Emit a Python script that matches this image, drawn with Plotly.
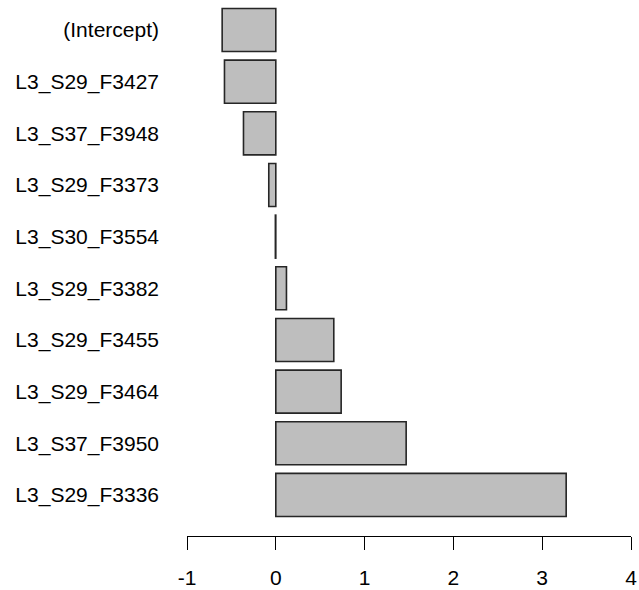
import plotly.graph_objects as go

labels = ["(Intercept)", "L3_S29_F3427", "L3_S37_F3948", "L3_S29_F3373", "L3_S30_F3554",
          "L3_S29_F3382", "L3_S29_F3455", "L3_S29_F3464", "L3_S37_F3950", "L3_S29_F3336"]
values = [-0.604, -0.578, -0.364, -0.079, -0.005, 0.12, 0.653, 0.736, 1.468, 3.27]
x_ticks = [-1, 0, 1, 2, 3, 4]

positions = list(range(len(labels)))

fig = go.Figure(go.Bar(
    x=values, y=positions, orientation="h", width=0.833,
    marker=dict(color="#BEBEBE", line=dict(color="#262626", width=1.6)),
    hoverinfo="skip",
))

font = dict(family="Liberation Sans, Arial, sans-serif", size=21, color="#000000")

fig.update_layout(
    width=639, height=590,
    margin=dict(l=186.7, r=8.3, t=0, b=54.3, autoexpand=False),
    paper_bgcolor="white", plot_bgcolor="white",
    showlegend=False,
    font=font,
    bargap=0,
)
fig.update_xaxes(
    range=[-1, 4], tickvals=x_ticks, ticktext=[str(v) for v in x_ticks],
    showline=True, linecolor="#000000", linewidth=1,
    ticks="outside", ticklen=13, tickcolor="#000000", tickwidth=1,
    showgrid=False, zeroline=False, tickfont=font, ticklabelstandoff=10,
    ticklabeloverflow="allow", automargin=False,
)
fig.update_yaxes(
    range=[9.795, -0.581], tickvals=positions, ticktext=labels,
    showline=False, showgrid=False, zeroline=False, ticks="",
    tickfont=font, ticklabelstandoff=27, automargin=False,
)

fig.write_html(
    "out.html",
    config={"displayModeBar": False, "staticPlot": True},
    post_script="document.body.style.margin='0';document.body.style.overflow='hidden';",
)
